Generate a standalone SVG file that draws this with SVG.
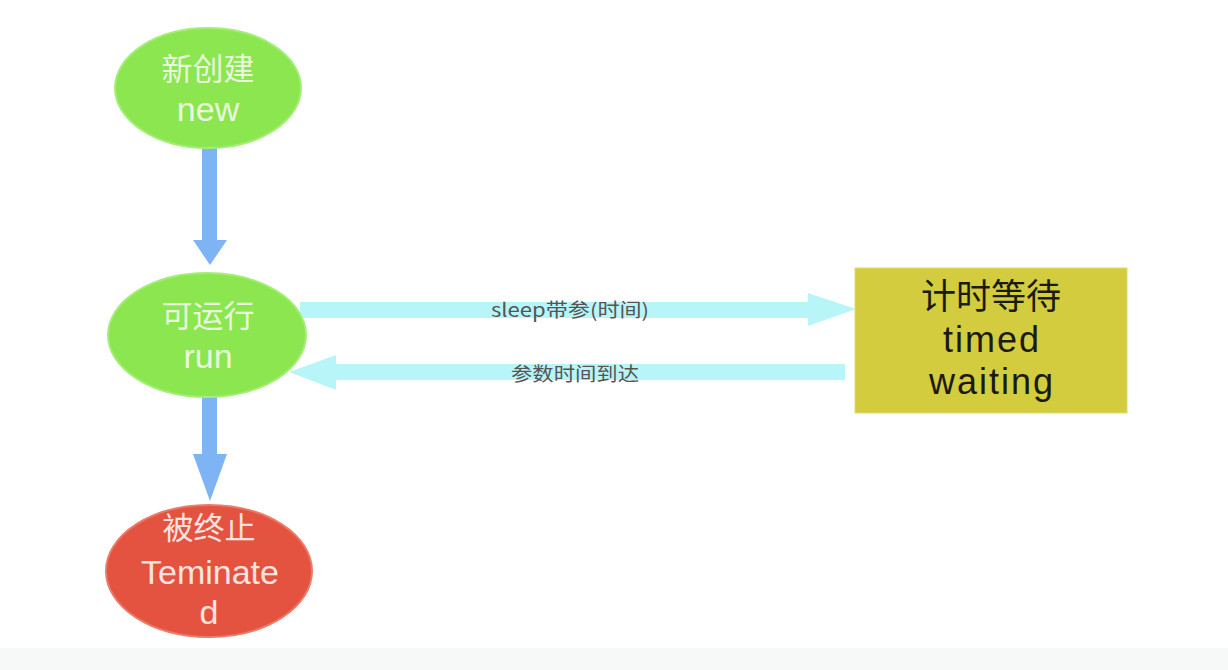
<svg xmlns="http://www.w3.org/2000/svg" width="1228" height="670" viewBox="0 0 1228 670">
<style>
.g{fill:#8be64f;stroke:#a4ee78;stroke-width:2}
.r{fill:#e4533f;stroke:#ea7a69;stroke-width:2}
.y{fill:#d2cc3e;stroke:#e0dc6a;stroke-width:1}
.cj{font-family:"Noto Sans CJK SC","Noto Sans",sans-serif}
.la{font-family:"Liberation Sans","Noto Sans",sans-serif}
.wt{fill:#e9f7df;font-size:31px;text-anchor:middle}
.wl{fill:#e9f7df;font-size:34px;text-anchor:middle}
.rt{fill:#fbe4e0;font-size:31px;text-anchor:middle}
.rl{fill:#fbe4e0;font-size:34px;text-anchor:middle}
.bt{fill:#1a1a10;font-size:35px;text-anchor:middle}
.bl{fill:#1a1a10;font-size:36px;text-anchor:middle;letter-spacing:2px}
.lb{fill:#555;font-size:19px;text-anchor:middle}
.blue{fill:#7eb3f4}
.cyan{fill:#b8f5f9}
</style>
<rect x="0" y="0" width="1228" height="670" fill="#ffffff"/>
<rect x="0" y="648" width="1228" height="22" fill="#f7f8f8"/>
<g id="connectors">
  <g id="new-run">
    <rect class="blue" x="202" y="146" width="15" height="96"/>
    <polygon class="blue" points="193,240 227,240 210,265"/>
  </g>
  <g id="run-terminated">
    <rect class="blue" x="202" y="396" width="15" height="60"/>
    <polygon class="blue" points="193,454 227,454 210,501"/>
  </g>
  <g id="run-timed">
    <rect class="cyan" x="300" y="302" width="512" height="16"/>
    <polygon class="cyan" points="808,293 808,326 856,309"/>
    <text class="cj lb" x="570" y="317" textLength="158" lengthAdjust="spacingAndGlyphs">sleep带参(时间)</text>
  </g>
  <g id="timed-run">
    <rect class="cyan" x="332" y="364" width="513" height="16"/>
    <polygon class="cyan" points="336,355 336,390 289,372"/>
    <text class="cj lb" x="575" y="381" textLength="128" lengthAdjust="spacingAndGlyphs">参数时间到达</text>
  </g>
</g>
<g id="node-new">
  <ellipse class="g" cx="208" cy="88" rx="93" ry="60"/>
  <text class="cj wt" x="208" y="80">新创建</text>
  <text class="la wl" x="208" y="121">new</text>
</g>
<g id="node-run">
  <ellipse class="g" cx="207" cy="335" rx="99" ry="62"/>
  <text class="cj wt" x="208" y="327">可运行</text>
  <text class="la wl" x="208" y="368">run</text>
</g>
<g id="node-terminated">
  <ellipse class="r" cx="209" cy="571" rx="103" ry="66"/>
  <text class="cj rt" x="209" y="539">被终止</text>
  <text class="la rl" x="210" y="584">Teminate</text>
  <text class="la rl" x="209" y="624">d</text>
</g>
<g id="node-timed">
  <rect class="y" x="855" y="268" width="272" height="145"/>
  <text class="cj bt" x="991" y="309">计时等待</text>
  <text class="la bl" x="992" y="352">timed</text>
  <text class="la bl" x="992" y="394">waiting</text>
</g>
</svg>
